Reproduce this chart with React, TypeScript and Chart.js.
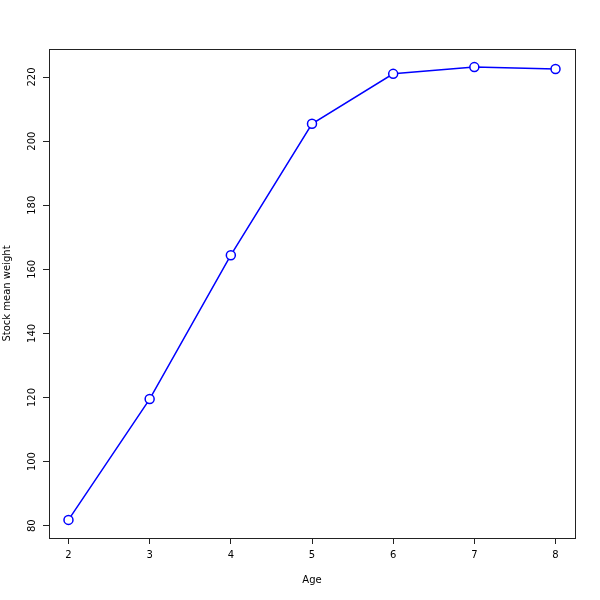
import React, { useEffect, useRef } from 'react';
import { Chart, registerables } from 'chart.js';

Chart.register(...registerables);

const ages = [2, 3, 4, 5, 6, 7, 8];
const weights = [81.8, 119.5, 164.4, 205.4, 221.0, 223.1, 222.5];
const xTicks = [2, 3, 4, 5, 6, 7, 8];
const yTicks = [80, 100, 120, 140, 160, 180, 200, 220];
const xTitle = 'Age';
const yTitle = 'Stock mean weight';

function extendRange(vals: number[]) {
  const lo = Math.min(...vals);
  const hi = Math.max(...vals);
  const d = (hi - lo) * 0.04;
  return [lo - d, hi + d];
}

const boxPlugin = {
  id: 'plotBox',
  afterDraw(chart: any) {
    const { ctx, chartArea } = chart;
    ctx.save();
    ctx.strokeStyle = '#222';
    ctx.lineWidth = 1;
    ctx.strokeRect(
      chartArea.left + 0.5,
      chartArea.top + 0.5,
      chartArea.right - chartArea.left,
      chartArea.bottom - chartArea.top
    );
    ctx.restore();
  },
};

export default function App() {
  const ref = useRef<HTMLCanvasElement>(null);

  useEffect(() => {
    if (!ref.current) return;
    const [xMin, xMax] = extendRange(ages);
    const [yMin, yMax] = extendRange(weights);
    const font = { family: 'DejaVu Sans', size: 10 };
    const chart = new Chart(ref.current, {
      type: 'line',
      data: {
        datasets: [
          {
            data: ages.map((a, i) => ({ x: a, y: weights[i] })),
            borderColor: '#0000ff',
            borderWidth: 1.5,
            pointRadius: 4.5,
            pointBorderWidth: 1.5,
            pointBackgroundColor: '#ffffff',
            pointBorderColor: '#0000ff',
            tension: 0,
            fill: false,
          },
        ],
      },
      options: {
        animation: false,
        responsive: false,
        maintainAspectRatio: false,
        layout: { padding: { top: 49, right: 25, left: 0, bottom: 0 } },
        plugins: {
          legend: { display: false },
          tooltip: { enabled: false },
        },
        scales: {
          x: {
            type: 'linear',
            min: xMin,
            max: xMax,
            afterBuildTicks: (s: any) => {
              s.ticks = xTicks.map((v) => ({ value: v }));
            },
            afterFit: (s: any) => {
              s.height = 62;
            },
            border: { display: false },
            grid: {
              drawOnChartArea: false,
              drawTicks: true,
              tickLength: 6,
              color: '#222',
              lineWidth: 1,
            },
            ticks: {
              font,
              color: '#000',
              padding: 5.7,
              autoSkip: false,
              maxRotation: 0,
              minRotation: 0,
              callback: (v: any) => String(v),
            },
            title: {
              display: true,
              text: xTitle,
              font,
              color: '#000',
              padding: { top: 0, bottom: 14 },
            },
          },
          y: {
            type: 'linear',
            min: yMin,
            max: yMax,
            afterBuildTicks: (s: any) => {
              s.ticks = yTicks.map((v) => ({ value: v }));
            },
            afterFit: (s: any) => {
              s.width = 49;
            },
            border: { display: false },
            grid: {
              drawOnChartArea: false,
              drawTicks: true,
              tickLength: 6,
              color: '#222',
              lineWidth: 1,
            },
            ticks: {
              font,
              color: '#000',
              padding: 1.5,
              autoSkip: false,
              minRotation: 90,
              maxRotation: 90,
              crossAlign: 'center',
              callback: (v: any) => String(v),
            },
            title: {
              display: true,
              text: yTitle,
              font,
              color: '#000',
              padding: { top: 1, bottom: 0 },
            },
          },
        },
      },
      plugins: [boxPlugin],
    } as any);
    return () => chart.destroy();
  }, []);

  return (
    <div style={{ position: 'fixed', left: 0, top: 0, width: 600, height: 600, background: '#fff' }}>
      <canvas ref={ref} width={600} height={600} style={{ width: 600, height: 600 }} />
    </div>
  );
}
